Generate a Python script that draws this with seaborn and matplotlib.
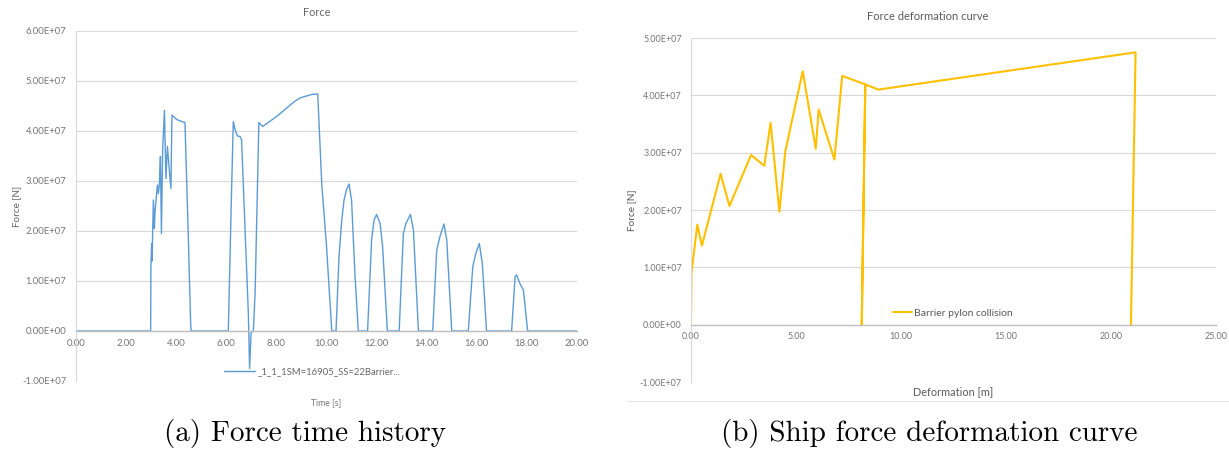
import matplotlib
matplotlib.use("Agg")
import matplotlib.pyplot as plt
from matplotlib.ticker import FuncFormatter, MultipleLocator
from matplotlib.lines import Line2D
import pandas as pd
import seaborn as sns

# ---- (a) force time history: time [s], force [1e6 N] ----
time_s = [0.00, 2.98, 2.99, 3.02, 3.04, 3.06, 3.09, 3.13, 3.15, 3.25, 3.29, 3.33,
          3.37, 3.41, 3.46, 3.53, 3.59, 3.65, 3.73, 3.79, 3.83, 4.02, 4.22, 4.35,
          4.48, 4.58, 4.60, 6.08, 6.20, 6.28, 6.34, 6.44, 6.55, 6.61, 6.75, 6.88,
          6.93, 6.99, 7.08, 7.15, 7.30, 7.45, 7.70, 8.01, 8.25, 8.48, 8.70, 8.94,
          9.20, 9.41, 9.65, 9.81, 10.00, 10.21, 10.38, 10.50, 10.61, 10.70, 10.80,
          10.90, 11.00, 11.14, 11.27, 11.64, 11.80, 11.90, 12.00, 12.14, 12.24,
          12.43, 12.90, 13.07, 13.17, 13.27, 13.35, 13.47, 13.67, 14.24, 14.40,
          14.53, 14.69, 14.80, 15.00, 15.66, 15.84, 15.96, 16.10, 16.22, 16.39,
          17.39, 17.53, 17.59, 17.72, 17.86, 18.03, 20.00]
force_t = [0.0, 0.0, 13.0, 17.5, 14.0, 20.0, 26.2, 20.5, 23.5, 29.2, 27.5, 29.5,
           34.9, 19.5, 36.2, 44.1, 30.5, 36.9, 31.9, 28.5, 43.2, 42.3, 41.9, 41.7,
           19.5, 0.9, 0.0, 0.0, 26.0, 41.9, 40.5, 39.0, 38.9, 38.2, 20.2, 3.5,
           -7.5, -0.3, 0.0, 7.6, 41.7, 40.9, 41.8, 42.9, 43.9, 44.9, 45.8, 46.6,
           47.0, 47.3, 47.4, 29.5, 17.0, 0.0, 0.0, 15.0, 22.2, 26.2, 28.3,
           29.4, 26.2, 10.9, 0.0, 0.0, 18.2, 22.2, 23.3, 21.5, 16.9,
           0.0, 0.0, 19.5, 21.5, 22.5, 23.3, 20.2, 0.0, 0.0, 16.2,
           18.9, 21.4, 18.2, 0.0, 0.0, 12.9, 15.5, 17.5, 13.5, 0.0,
           0.0, 10.9, 11.2, 9.5, 8.2, 0.0, 0.0]
series_a = "_1_1_1SM=16905_SS=22Barrier..."

# ---- (b) force deformation curve: deformation [m], force [1e6 N] ----
deform_m = [0.00, 0.02, 0.30, 0.52, 1.41, 1.83, 2.86, 3.49, 3.79, 4.21, 4.49,
            5.32, 5.94, 6.08, 6.83, 7.20, 8.30, 8.13, 8.30, 8.92, 21.17, 20.95]
force_d = [0.0, 9.0, 17.45, 13.8, 26.3, 20.7, 29.6, 27.7, 35.2, 19.7, 30.2,
           44.2, 30.7, 37.5, 28.8, 43.4, 41.9, 0.0, 41.9, 41.0, 47.5, 0.0]
series_b = "Barrier pylon collision"

df_a = pd.DataFrame({"t": time_s, "F": [v * 1e6 for v in force_t]})
df_b = pd.DataFrame({"d": deform_m, "F": [v * 1e6 for v in force_d]})

sns.set_theme(style="white")
plt.rcParams["font.family"] = ["Lato", "DejaVu Sans"]
plt.rcParams["axes.unicode_minus"] = False

W, H = 1229, 450
fig = plt.figure(figsize=(W / 100, H / 100), dpi=100)


def px_axes(x0, x1, ytop, ybot):
    return fig.add_axes([x0 / W, (H - ybot) / H, (x1 - x0) / W, (ybot - ytop) / H])


GRID = "#D9D9D9"
ZERO = "#BFBFBF"
TXT = "#757575"
sci = FuncFormatter(lambda v, p: f"{v:.2E}")
fix2 = FuncFormatter(lambda v, p: f"{v:.2f}")


def style(ax, xmax, xstep, ymin, ymax, fs, xpad, ypad):
    ax.set_xlim(0, xmax)
    ax.set_ylim(ymin, ymax)
    ax.xaxis.set_major_locator(MultipleLocator(xstep))
    ax.yaxis.set_major_locator(MultipleLocator(1e7))
    ax.xaxis.set_major_formatter(fix2)
    ax.yaxis.set_major_formatter(sci)
    ax.grid(axis="y", color=GRID, linewidth=0.8)
    ax.grid(axis="x", visible=False)
    for s in ("top", "right"):
        ax.spines[s].set_visible(False)
    ax.spines["left"].set_color(GRID)
    ax.spines["left"].set_linewidth(0.8)
    ax.spines["bottom"].set_position(("data", 0))
    ax.spines["bottom"].set_color(ZERO)
    ax.spines["bottom"].set_linewidth(1.0)
    ax.tick_params(axis="both", length=0, labelsize=fs, labelcolor=TXT)
    ax.tick_params(axis="x", pad=xpad)
    ax.tick_params(axis="y", pad=ypad)
    ax.set_axisbelow(True)


# ---------------- (a) ----------------
ax1 = px_axes(76, 577, 31, 381)
sns.lineplot(data=df_a, x="t", y="F", sort=False, estimator=None, ax=ax1,
             color="#5B9BD5", linewidth=1.0, legend=False)
style(ax1, 20, 2, -1e7, 6e7, 6.8, 6.0, 7)
ax1.set_xlabel("Time [s]", fontsize=6.2, color=TXT)
ax1.xaxis.set_label_coords(0.5, -0.05)
ax1.set_ylabel("Force [N]", fontsize=7.2, color="#666666")
ax1.yaxis.set_label_coords(-0.11, 0.5)
handle_a = Line2D([], [], color="#5B9BD5", linewidth=1.0)
ax1.legend([handle_a], [series_a], loc="center", bbox_to_anchor=(0.471, 0.026),
           frameon=False, fontsize=6.8, handlelength=3.3, handletextpad=0.25,
           labelcolor="#666666")
fig.text(317 / W, 1 - 12 / H, "Force", ha="center", va="center",
         fontsize=7.8, color="#666666")

# ---------------- (b) ----------------
ax2 = px_axes(691, 1216, 38, 382)
sns.lineplot(data=df_b, x="d", y="F", sort=False, estimator=None, ax=ax2,
             color="#FFC000", linewidth=1.5, legend=False)
style(ax2, 25, 5, -1e7, 5e7, 6.5, 5.0, 6.5)
ax2.set_xlabel("Deformation [m]", fontsize=7.8, color="#595959")
ax2.xaxis.set_label_coords(0.5, -0.012)
ax2.set_ylabel("Force [N]", fontsize=7.3, color="#595959")
ax2.yaxis.set_label_coords(-0.105, 0.5)
handle_b = Line2D([], [], color="#FFC000", linewidth=1.5)
ax2.legend([handle_b], [series_b], loc="center", bbox_to_anchor=(0.499, 0.20),
           frameon=False, fontsize=7.5, handlelength=1.8, handletextpad=0.2,
           labelcolor="#595959")
fig.text(928 / W, 1 - 17 / H, "Force deformation curve", ha="center",
         va="center", fontsize=8.0, color="#595959")
fig.add_artist(Line2D([627 / W, 1.0], [1 - 401 / H] * 2, color="#E6E6E6",
                      linewidth=0.8, transform=fig.transFigure))

# ---------------- captions ----------------
fig.text(305 / W, 1 - 433 / H, "(a) Force time history", ha="center",
         va="center", fontsize=21, family="cmr10", color="black")
fig.text(929 / W, 1 - 433 / H, "(b) Ship force deformation curve", ha="center",
         va="center", fontsize=21, family="cmr10", color="black")

fig.savefig("out.png", dpi=100, facecolor="white")
